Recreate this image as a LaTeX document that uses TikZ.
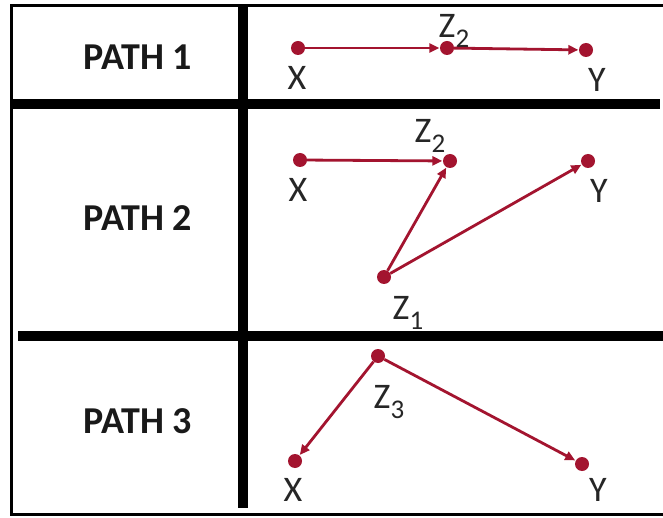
\documentclass[tikz,border=0pt]{standalone}
\usepackage{fontspec}
\setmainfont{Carlito}
\usetikzlibrary{arrows.meta}
\definecolor{dred}{HTML}{A3142F}
\newcommand{\zsub}[1]{Z\raisebox{-0.3em}{\fontsize{27}{27}\selectfont #1}}
\begin{document}
\begin{tikzpicture}[x=1pt,y=-1pt,
  dotnode/.style={circle,fill=dred,inner sep=0pt,minimum size=14pt},
  lab/.style={font=\fontsize{36}{36}\selectfont,text=black!85,inner sep=0pt},
  pathlab/.style={font=\fontsize{38}{38}\selectfont\bfseries,text=black!90,inner sep=0pt},
  arr/.style={draw=dred,line width=2.8pt,-{Triangle[length=10pt,width=9pt]},shorten >=0.5pt},
  thick line/.style={line width=10pt,black},
  frame/.style={line width=3pt,black}]
\useasboundingbox (0,0) rectangle (663,518);
\fill[white] (0,0) rectangle (663,518);
% frame
\draw[frame] (663,6) -- (11,6) -- (11,514) -- (663,514);
\draw[thick line] (243,6) -- (243,508);
\draw[thick line] (11,104) -- (660,104);
\draw[thick line] (18,336) -- (663,336);
% path labels
\node[pathlab] (p1) at (138,57) {PATH 1};
\node[pathlab] (p2) at (138,218) {PATH 2};
\node[pathlab] (p3) at (138,421) {PATH 3};
% path 1
\node[dotnode] (x1) at (298,48) {};
\node[dotnode] (z21) at (447,48) {};
\node[dotnode] (y1) at (586,50) {};
\node[lab] (lx1) at (297,78) {X};
\node[lab] (lz21) at (454,31) {\zsub{2}};
\node[lab] (ly1) at (597,80) {Y};
\draw[arr] (x1) -- (z21);
\draw[arr] (z21) -- (y1);
% path 2
\node[dotnode] (x2) at (300,160) {};
\node[dotnode] (z22) at (450,161) {};
\node[dotnode] (y2) at (588,161) {};
\node[dotnode] (z1) at (384,277) {};
\node[lab] (lx2) at (298,190) {X};
\node[lab] (lz22) at (430,136) {\zsub{2}};
\node[lab] (ly2) at (599,191) {Y};
\node[lab] (lz1) at (408,313) {\zsub{1}};
\draw[arr] (x2) -- (z22);
\draw[arr] (z1) -- (z22);
\draw[arr] (z1) -- (y2);
% path 3
\node[dotnode] (z3) at (378,356) {};
\node[dotnode] (x3) at (295,461) {};
\node[dotnode] (y3) at (582,464) {};
\node[lab] (lz3) at (389,402) {\zsub{3}};
\node[lab] (lx3) at (293,490) {X};
\node[lab] (ly3) at (598,490) {Y};
\draw[arr] (z3) -- (x3);
\draw[arr] (z3) -- (y3);
\end{tikzpicture}
\end{document}
